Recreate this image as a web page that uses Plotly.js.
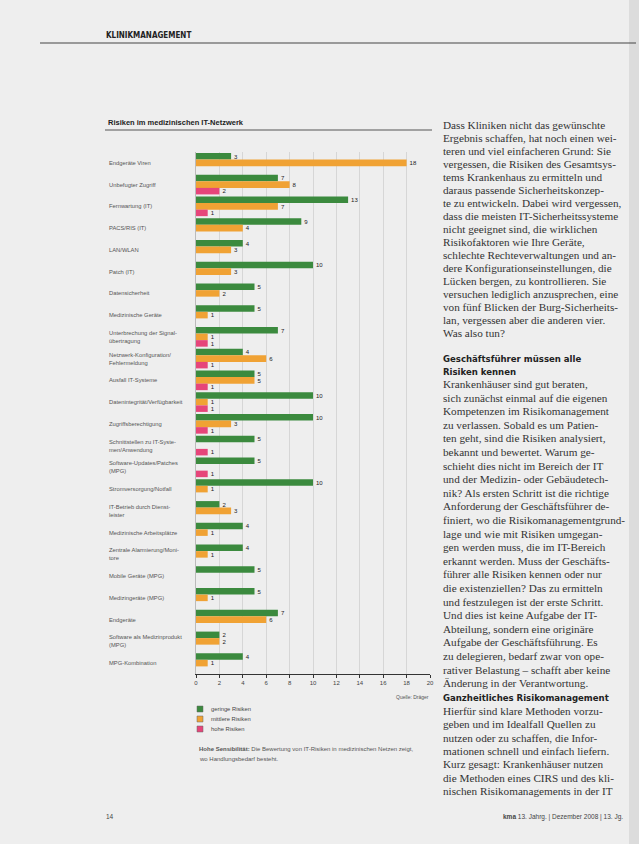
<!DOCTYPE html>
<html><head><meta charset="utf-8">
<script src="https://cdn.plot.ly/plotly-3.0.1.min.js"></script>
<style>html,body{margin:0;padding:0;background:#eeeeee;}#chart{width:639px;height:844px;}</style>
</head><body><div id="chart"></div>
<script>
// ---- data ----
const categories = [
  "Endgeräte Viren",
  "Unbefugter Zugriff",
  "Fernwartung (IT)",
  "PACS/RIS (IT)",
  "LAN/WLAN",
  "Patch (IT)",
  "Datensicherheit",
  "Medizinische Geräte",
  "Unterbrechung der Signal-<br>übertragung",
  "Netzwerk-Konfiguration/<br>Fehlermeldung",
  "Ausfall IT-Systeme",
  "Datenintegrität/Verfügbarkeit",
  "Zugriffsberechtigung",
  "Schnittstellen zu IT-Syste-<br>men/Anwendung",
  "Software-Updates/Patches<br>(MPG)",
  "Stromversorgung/Notfall",
  "IT-Betrieb durch Dienst-<br>leister",
  "Medizinische Arbeitsplätze",
  "Zentrale Alarmierung/Moni-<br>tore",
  "Mobile Geräte (MPG)",
  "Medizingeräte (MPG)",
  "Endgeräte",
  "Software als Medizinprodukt<br>(MPG)",
  "MPG-Kombination"
];
const gering = [3,7,13,9,4,10,5,5,7,4,5,10,10,5,5,10,2,4,4,5,5,7,2,4];
const mittel = [18,8,7,4,3,3,2,1,1,6,5,1,3,null,null,1,3,1,1,null,1,6,2,1];
const hoch   = [null,2,1,null,null,null,null,null,1,1,1,1,1,1,1,null,null,null,null,null,null,null,null,null];
const seriesNames = ["geringe Risiken","mittlere Risiken","hohe Risiken"];
const seriesColors = ["#3b8a3e","#f0a234","#e6457a"];
const xTicks = [0,2,4,6,8,10,12,14,16,18,20];

const para1 = [
 "Dass Kliniken nicht das gewünschte",
 "Ergebnis schaffen, hat noch einen wei-",
 "teren und viel einfacheren Grund: Sie",
 "vergessen, die Risiken des Gesamtsys-",
 "tems Krankenhaus zu ermitteln und",
 "daraus passende Sicherheitskonzep-",
 "te zu entwickeln. Dabei wird vergessen,",
 "dass die meisten IT-Sicherheitssysteme",
 "nicht geeignet sind, die wirklichen",
 "Risikofaktoren wie Ihre Geräte,",
 "schlechte Rechteverwaltungen und an-",
 "dere Konfigurationseinstellungen, die",
 "Lücken bergen, zu kontrollieren. Sie",
 "versuchen lediglich anzusprechen, eine",
 "von fünf Blicken der Burg-Sicherheits-",
 "lan, vergessen aber die anderen vier.",
 "Was also tun?"
];
const head2 = ["Geschäftsführer müssen alle","Risiken kennen"];
const para2 = [
 "Krankenhäuser sind gut beraten,",
 "sich zunächst einmal auf die eigenen",
 "Kompetenzen im Risikomanagement",
 "zu verlassen. Sobald es um Patien-",
 "ten geht, sind die Risiken analysiert,",
 "bekannt und bewertet. Warum ge-",
 "schieht dies nicht im Bereich der IT",
 "und der Medizin- oder Gebäudetech-",
 "nik? Als ersten Schritt ist die richtige",
 "Anforderung der Geschäftsführer de-",
 "finiert, wo die Risikomanagementgrund-",
 "lage und wie mit Risiken umgegan-",
 "gen werden muss, die im IT-Bereich",
 "erkannt werden. Muss der Geschäfts-",
 "führer alle Risiken kennen oder nur",
 "die existenziellen? Das zu ermitteln",
 "und festzulegen ist der erste Schritt.",
 "Und dies ist keine Aufgabe der IT-",
 "Abteilung, sondern eine originäre",
 "Aufgabe der Geschäftsführung. Es",
 "zu delegieren, bedarf zwar von ope-",
 "rativer Belastung – schafft aber keine",
 "Änderung in der Verantwortung."
];
const head3 = ["Ganzheitliches Risikomanagement"];
const para3 = [
 "Hierfür sind klare Methoden vorzu-",
 "geben und im Idealfall Quellen zu",
 "nutzen oder zu schaffen, die Infor-",
 "mationen schnell und einfach liefern.",
 "Kurz gesagt: Krankenhäuser nutzen",
 "die Methoden eines CIRS und des kli-",
 "nischen Risikomanagements in der IT"
];

// ---- page geometry helpers (pixel -> paper) ----
const L=196, R=430, T=152, B=674;
const px = x => (x-L)/(R-L);
const py = y => (B-y)/(B-T);

const serif = "Liberation Serif, DejaVu Serif, serif";
const sans = "Liberation Sans, Arial, sans-serif";

const traces = [gering, mittel, hoch].map((vals,i)=>({
  type:"bar", orientation:"h",
  y: categories, x: vals, name: seriesNames[i],
  marker:{color: seriesColors[i]},
  text: vals.map(v => v==null ? "" : String(v)),
  textposition:"outside", cliponaxis:false,
  textfont:{family:sans, size:6.5, color:"#222"},
  hoverinfo:"skip", showlegend:false
}));

const ann = [];
const shapes = [];

// category labels
categories.forEach(c=>{
  ann.push({xref:"paper", yref:"y", x:px(107), y:c, text:c, showarrow:false,
    xanchor:"left", yanchor:"middle", align:"left",
    font:{family:sans, size:5.8, color:"#555"}});
});

// header
ann.push({xref:"paper",yref:"paper",x:px(104),y:py(36),text:"<b>KLINIKMANAGEMENT</b>",showarrow:false,
  xanchor:"left",yanchor:"middle",font:{family:"DejaVu Sans Condensed, "+sans,size:8,color:"#222"}});
shapes.push({type:"line",xref:"paper",yref:"paper",x0:px(40),x1:px(636),y0:py(43),y1:py(43),line:{color:"#444",width:1}});

// chart title
ann.push({xref:"paper",yref:"paper",x:px(106),y:py(123),text:"<b>Risiken im medizinischen IT-Netzwerk</b>",showarrow:false,
  xanchor:"left",yanchor:"middle",font:{family:sans,size:7.5,color:"#222"}});
shapes.push({type:"line",xref:"paper",yref:"paper",x0:px(105),x1:px(432),y0:py(130),y1:py(130),line:{color:"#555",width:1}});

// source
ann.push({xref:"paper",yref:"paper",x:px(431),y:py(697),text:"Quelle: Dräger",showarrow:false,
  xanchor:"right",yanchor:"middle",font:{family:sans,size:5,color:"#555"}});

// legend (manual)
seriesNames.forEach((n,i)=>{
  const yy = 709 + i*10;
  shapes.push({type:"rect",xref:"paper",yref:"paper",x0:px(197),x1:px(203),y0:py(yy-3),y1:py(yy+3),
    fillcolor:seriesColors[i],line:{color:"#666",width:0.5}});
  ann.push({xref:"paper",yref:"paper",x:px(209),y:py(yy),text:n,showarrow:false,
    xanchor:"left",yanchor:"middle",font:{family:sans,size:5.8,color:"#444"}});
});

// caption
ann.push({xref:"paper",yref:"paper",x:px(197),y:py(749),text:"<b>Hohe Sensibilität:</b> Die Bewertung von IT-Risiken in medizinischen Netzen zeigt,",showarrow:false,
  xanchor:"left",yanchor:"middle",font:{family:sans,size:6,color:"#555"}});
ann.push({xref:"paper",yref:"paper",x:px(197),y:py(759),text:"wo Handlungsbedarf besteht.",showarrow:false,
  xanchor:"left",yanchor:"middle",font:{family:sans,size:6,color:"#555"}});

// right column text
function lines(arr, y0, dy, font){
  arr.forEach((t,i)=>ann.push({xref:"paper",yref:"paper",x:px(441),y:py(y0+i*dy),text:t,showarrow:false,
    xanchor:"left",yanchor:"middle",font:font}));
}
const bodyFont = {family:serif,size:11.2,color:"#333"};
const headFont = {family:"DejaVu Sans Condensed, "+sans,size:9.5,color:"#222"};
lines(para1,125,13,bodyFont);
lines(head2.map(h=>"<b>"+h+"</b>"),358,13,headFont);
lines(para2,384,13.6,bodyFont);
lines(head3.map(h=>"<b>"+h+"</b>"),697,13,headFont);
lines(para3,711,13.3,bodyFont);

// footer
ann.push({xref:"paper",yref:"paper",x:px(104),y:py(817),text:"14",showarrow:false,
  xanchor:"left",yanchor:"middle",font:{family:sans,size:6.5,color:"#444"}});
ann.push({xref:"paper",yref:"paper",x:px(625),y:py(817),text:"<b>kma</b> 13. Jahrg. | Dezember 2008 | 13. Jg.",showarrow:false,
  xanchor:"right",yanchor:"middle",font:{family:sans,size:6.5,color:"#444"}});

// right page edge strip
shapes.push({type:"rect",xref:"paper",yref:"paper",x0:px(629),x1:px(639),y0:py(0),y1:py(844),
  fillcolor:"#dcdcdc",line:{width:0},layer:"below"});

const layout = {
  width:639, height:844,
  margin:{l:L, r:639-R, t:T, b:844-B, pad:0},
  paper_bgcolor:"#eeeeee", plot_bgcolor:"#eeeeee",
  barmode:"group", bargap:0.1, bargroupgap:0,
  showlegend:false,
  xaxis:{range:[0,20], tickvals:xTicks, ticktext:xTicks.map(String),
    showgrid:true, gridcolor:"#d6d6d6", gridwidth:1, zeroline:false,
    showline:true, linecolor:"#333", linewidth:1, ticks:"outside", ticklen:3, tickcolor:"#333",
    tickfont:{family:sans,size:6,color:"#444"}, fixedrange:true},
  yaxis:{categoryorder:"array", categoryarray:categories, autorange:"reversed",
    showticklabels:false, showgrid:false, zeroline:false,
    showline:true, linecolor:"#bbb", linewidth:1, fixedrange:true},
  annotations:ann, shapes:shapes,
  font:{family:sans}
};
Plotly.newPlot("chart", traces, layout, {staticPlot:true, displayModeBar:false});
</script></body></html>
